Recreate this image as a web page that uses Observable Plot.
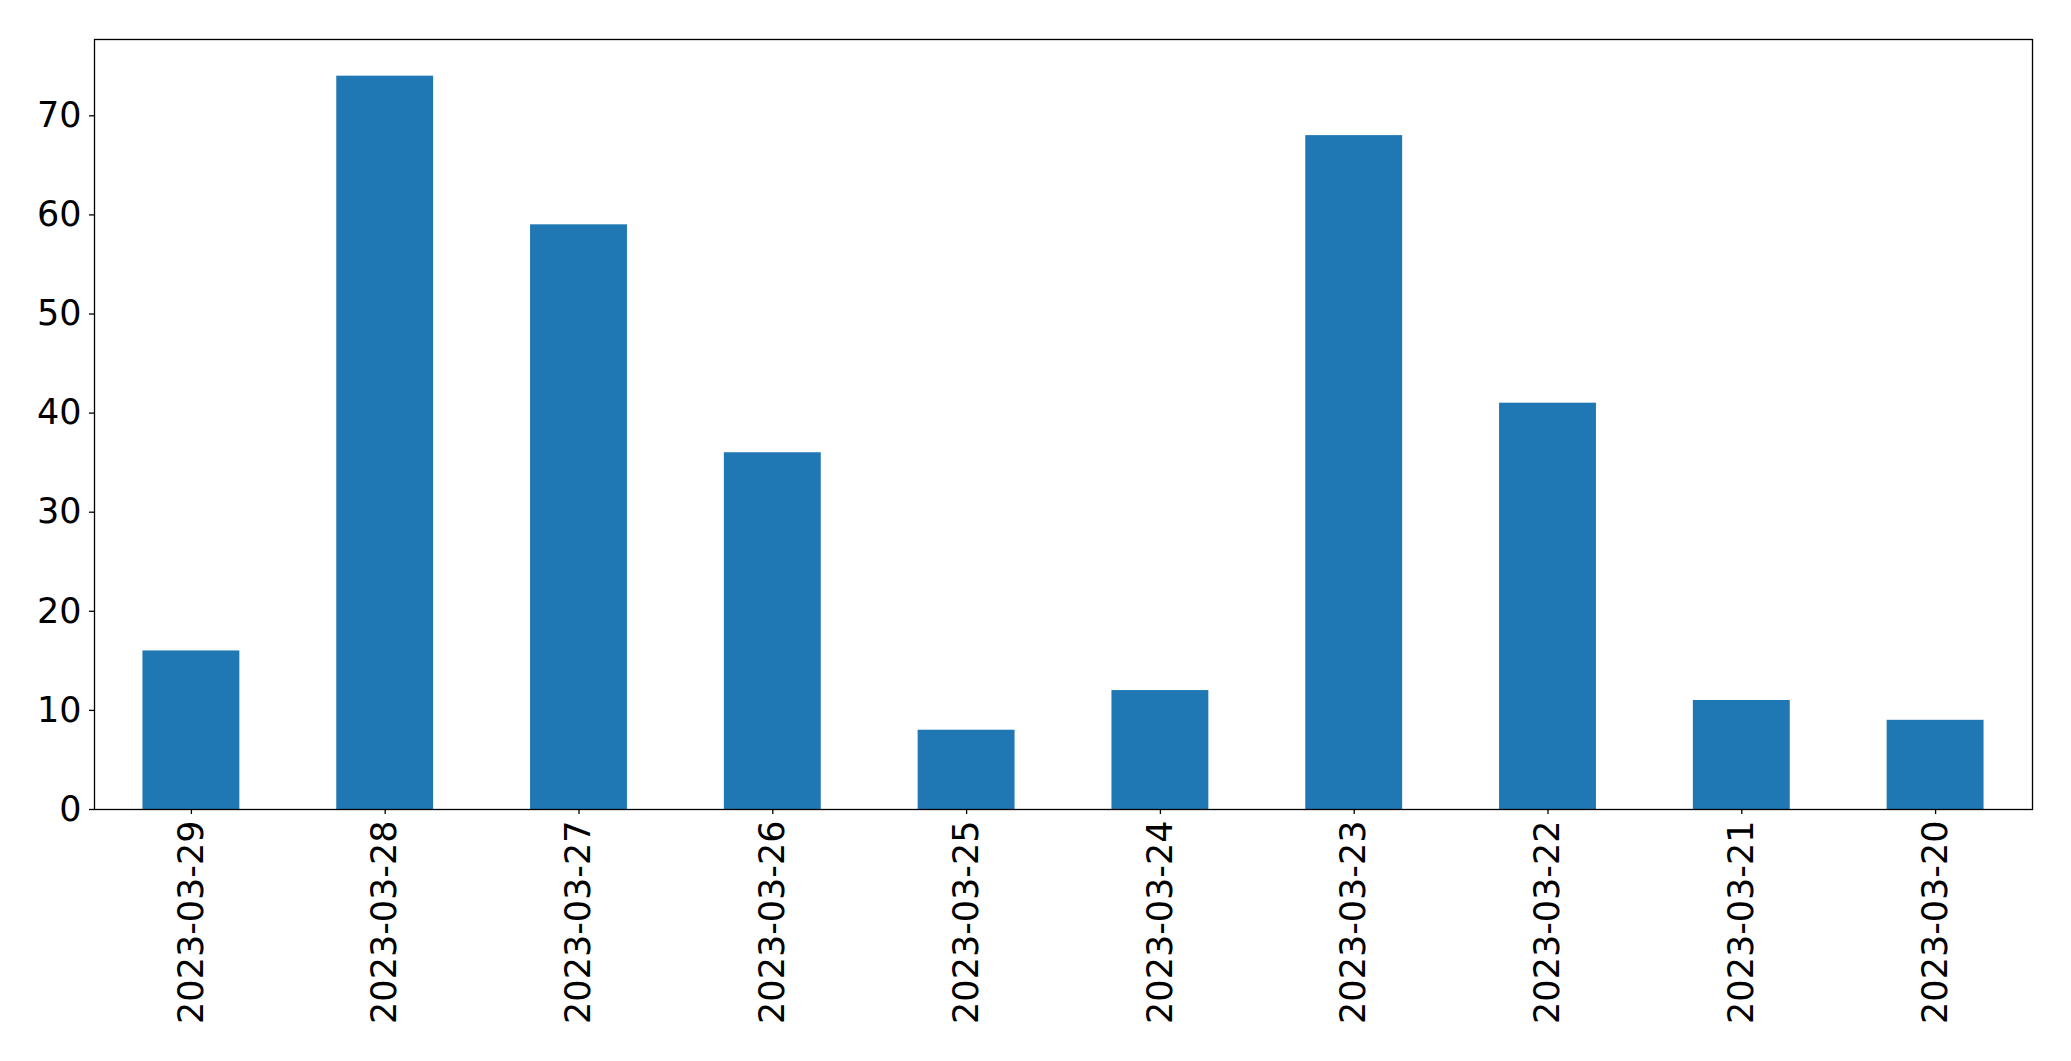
<!DOCTYPE html>
<html>
<head>
<meta charset="utf-8">
<script src="https://cdn.jsdelivr.net/npm/d3@7"></script>
<script src="https://cdn.jsdelivr.net/npm/@observablehq/plot@0.6"></script>
<style>
  html, body { margin: 0; padding: 0; background: #fff; }
  svg { display: block; }
</style>
</head>
<body>
<div id="chart"></div>
<script>
const dates = ["2023-03-29", "2023-03-28", "2023-03-27", "2023-03-26", "2023-03-25",
               "2023-03-24", "2023-03-23", "2023-03-22", "2023-03-21", "2023-03-20"];
const counts = [16, 74, 59, 36, 8, 12, 68, 41, 11, 9];
const yTicks = [0, 10, 20, 30, 40, 50, 60, 70];

const data = dates.map((d, i) => ({date: d, count: counts[i]}));

const chart = Plot.plot({
  width: 2071,
  height: 1061,
  marginLeft: 94,
  marginRight: 39,
  marginTop: 39,
  marginBottom: 252,
  style: {fontFamily: "DejaVu Sans", fontSize: "35px", color: "#000", background: "#fff"},
  x: {domain: dates, paddingInner: 0.5, paddingOuter: 0.25, round: false, label: null},
  y: {domain: [0, 77.7], label: null},
  marks: [
    Plot.barY(data, {x: "date", y: "count", fill: "#1f77b4"}),
    Plot.axisY({ticks: yTicks, tickSize: 5, tickPadding: 8, fontSize: 35, label: null, stroke: "#000", strokeWidth: 1.3}),
    Plot.axisX({tickSize: 5, tickPadding: 6, tickRotate: -90, fontSize: 35, label: null, stroke: "#000", strokeWidth: 1.3}),
    Plot.frame({stroke: "#000", strokeWidth: 1.3})
  ]
});
document.getElementById("chart").appendChild(chart);
</script>
</body>
</html>
